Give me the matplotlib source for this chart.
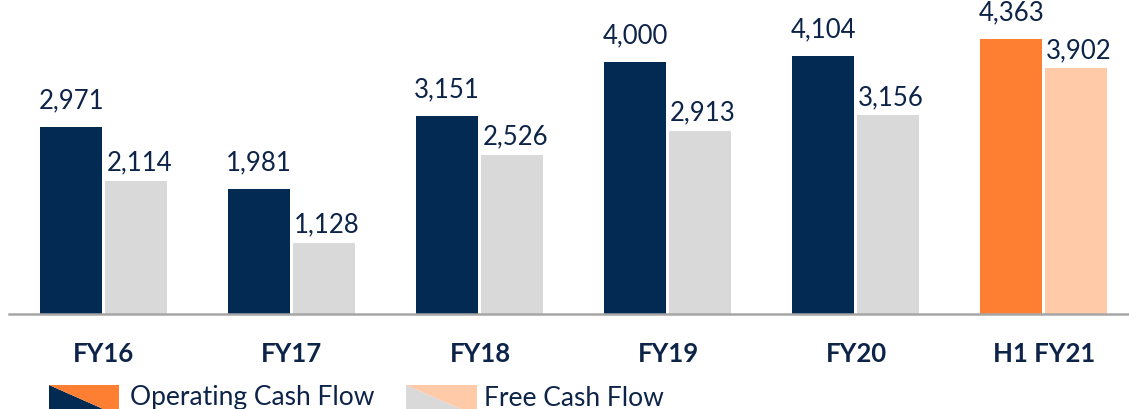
import matplotlib.pyplot as plt
from matplotlib.patches import Polygon
import numpy as np

# data
categories = ['FY16', 'FY17', 'FY18', 'FY19', 'FY20', 'H1 FY21']
operating_cf = [2971, 1981, 3151, 4000, 4104, 4363]
free_cf = [2114, 1128, 2526, 2913, 3156, 3902]

navy = '#022a53'
grey = '#d9d9d9'
orange = '#fe7f32'
peach = '#ffcaa8'
text_col = '#0d2448'

plt.rcParams['font.family'] = ['Lato', 'DejaVu Sans']

fig = plt.figure(figsize=(11.29, 4.09), dpi=100)
ax = fig.add_axes([0.008, 1 - 314 / 409, 0.992, 314 / 409])

x = np.arange(len(categories))
w = 0.33
op_colors = [navy] * 5 + [orange]
fr_colors = [grey] * 5 + [peach]
b1 = ax.bar(x - 0.175, operating_cf, width=w, color=op_colors)
b2 = ax.bar(x + 0.172, free_cf, width=w, color=fr_colors)

for rect, v in zip(b1, operating_cf):
    ax.annotate(f'{v:,}', (rect.get_x() + rect.get_width() / 2, v),
                xytext=(0, 10), textcoords='offset points',
                ha='center', va='bottom', fontsize=18.5, color=text_col)
for rect, v in zip(b2, free_cf):
    ax.annotate(f'{v:,}', (rect.get_x() + rect.get_width() / 2, v),
                xytext=(2, 4), textcoords='offset points',
                ha='center', va='bottom', fontsize=18.5, color=text_col)

ax.set_xlim(-0.505, 5.452)
ax.set_ylim(0, 4990)
ax.set_xticks(x)
ax.set_xticklabels(categories, fontsize=18.5, fontweight='bold', color=text_col)
ax.tick_params(axis='x', length=0, pad=20)
ax.set_yticks([])
for s in ['top', 'left', 'right']:
    ax.spines[s].set_visible(False)
ax.spines['bottom'].set_color('#a6a6a6')
ax.spines['bottom'].set_linewidth(1.8)

# legend swatches split diagonally
H = 409.0
W = 1129.0

def swatch(x0, x1, y0, y1, c_low, c_high):
    # y in pixel from top
    tl = (x0 / W, 1 - y0 / H)
    tr = (x1 / W, 1 - y0 / H)
    bl = (x0 / W, 1 - y1 / H)
    br = (x1 / W, 1 - y1 / H)
    fig.add_artist(Polygon([tl, bl, br], closed=True, color=c_low, transform=fig.transFigure, lw=0))
    fig.add_artist(Polygon([tl, tr, br], closed=True, color=c_high, transform=fig.transFigure, lw=0))

swatch(49, 119, 385, 416, navy, orange)
swatch(406, 477, 385, 416, grey, peach)
fig.text(130 / W, 1 - 398 / H, 'Operating Cash Flow', fontsize=19, color=text_col, va='center', ha='left')
fig.text(484 / W, 1 - 398 / H, 'Free Cash Flow', fontsize=19, color=text_col, va='center', ha='left')

plt.savefig('out.png', dpi=100)
